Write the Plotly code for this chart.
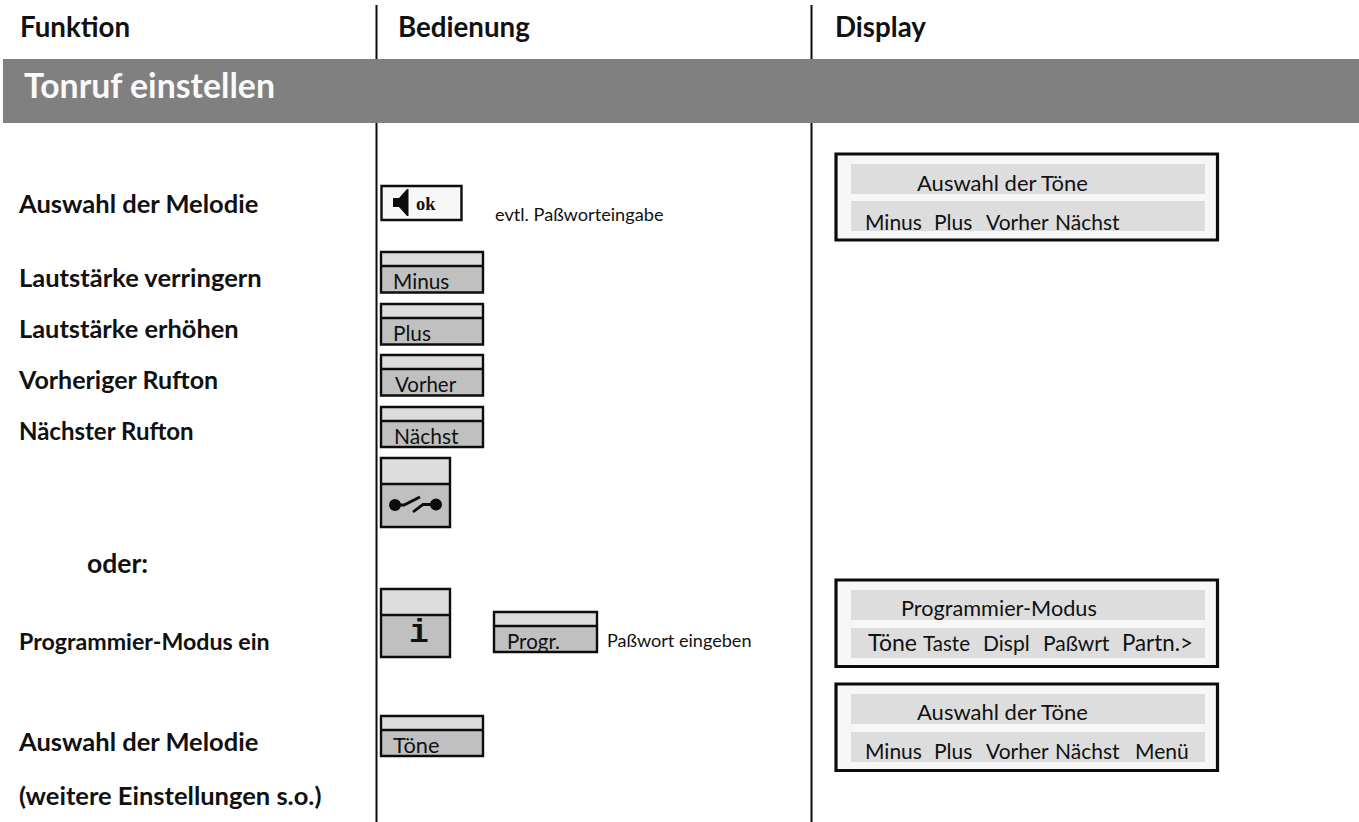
import plotly.graph_objects as go

# ---- text content ----
column_heads = ["Funktion", "Bedienung", "Display"]
section_title = "Tonruf einstellen"
function_labels = ["Auswahl der Melodie", "Lautstärke verringern", "Lautstärke erhöhen",
                   "Vorheriger Rufton", "Nächster Rufton", "oder:",
                   "Programmier-Modus ein", "Auswahl der Melodie", "(weitere Einstellungen s.o.)"]
key_labels = ["Minus", "Plus", "Vorher", "Nächst", "Progr.", "Töne"]
notes = ["evtl. Paßworteingabe", "Paßwort eingeben"]
display_titles = ["Auswahl der Töne", "Programmier-Modus", "Auswahl der Töne"]
softkeys_a = ["Minus", "Plus", "Vorher", "Nächst"]
softkeys_b = ["Töne", "Taste", "Displ", "Paßwrt", "Partn.>"]
softkeys_c = ["Minus", "Plus", "Vorher", "Nächst", "Menü"]

# ---- placement ----
FONT = "Lato"
INK = "#111111"
W, H = 1359, 822

texts = []  # x, baseline, string, size, weight, colour, family


def put(x, base, s, size, weight=400, color=INK, family=FONT):
    texts.append((x, base, s, size, weight, color, family))


for s, x in zip(column_heads, [20, 398, 835]):
    put(x, 38.5, s, 27.7, 700)
put(24, 100, section_title, 33.8, 700, "#fafafa")

for s, x, b, sz in zip(function_labels,
                       [19, 19, 19, 19, 19, 87, 19, 19, 19],
                       [214, 288, 339, 390, 441, 574, 651, 752, 806],
                       [25.5, 25.5, 25.4, 25, 24, 26.5, 23.2, 25.5, 25.5]):
    put(x, b, s, sz, 700)

for s, x, b, sz in zip(key_labels, [393, 393, 395, 394, 507, 393],
                       [290.5, 342, 393.5, 445, 650, 754],
                       [20.8, 20.8, 20.5, 21, 20.5, 21.8]):
    put(x, b, s, sz)
put(495, 222, notes[0], 18.2)
put(607, 648, notes[1], 18.1)

for s, x, b, sz in zip(display_titles, [917, 901, 917], [192, 617.5, 721], [22, 21.7, 22]):
    put(x, b, s, sz)
for s, x in zip(softkeys_a, [865, 934, 986, 1055]):
    put(x, 231, s, 21)
for s, x, sz in zip(softkeys_b, [868, 923, 983, 1043, 1122], [23, 20.5, 21, 21, 22.3]):
    put(x, 652, s, sz)
for s, x in zip(softkeys_c, [865, 934, 986, 1055, 1135]):
    put(x, 760.5, s, 21)

put(416, 211, "ok", 18.5, 700, "#111111", "Liberation Serif")
put(409, 644, "i", 33, 700, "#111111", "Liberation Mono")

shapes = []


def rect(x0, y0, x1, y1, fill=None, lw=0, layer="above"):
    shapes.append(dict(type="rect", xref="x", yref="y", x0=x0, y0=y0, x1=x1, y1=y1,
                       fillcolor=fill if fill else "rgba(0,0,0,0)",
                       line=dict(color="#0c0c0c", width=lw), layer=layer))


def line(x0, y0, x1, y1, lw=2):
    shapes.append(dict(type="line", xref="x", yref="y", x0=x0, y0=y0, x1=x1, y1=y1,
                       line=dict(color="#0c0c0c", width=lw), layer="above"))


def key(x0, y0, x1, y1, ydiv):
    rect(x0, y0, x1, ydiv, "#dddddd", 0, "below")
    rect(x0, ydiv, x1, y1, "#c0c0c0", 0, "below")
    rect(x0 - 1, y1 + 1, x1 + 1, y1 + 8, "#ffffff", 0, "above")
    rect(x0, y0, x1, y1, None, 2.4)
    line(x0, ydiv, x1, ydiv, 2.4)


# header band and column rules
rect(3, 59, W, 123, "#808080", 0, "below")
for x in [376.5, 811.5]:
    line(x, 5, x, 59)
    line(x, 123, x, H)

# keys
for y0, yd, y1 in [(252, 266, 292.5), (304, 318, 344.5), (355, 369, 395.5), (407, 421, 447)]:
    key(381, y0, 483, y1, yd)
key(381, 716, 483, 756, 730)
key(494, 612, 597, 652, 626)
key(381, 458, 450, 527, 484)
key(381, 589, 450, 657, 615)

# ok key with speaker
rect(381.5, 186, 461.5, 220, "#f7f7f7", 0, "below")
rect(381.5, 186, 461.5, 220, None, 2.4)
shapes.append(dict(type="path", xref="x", yref="y",
                   path="M393,198 L399,198 L407,189 L408.5,189 L408.5,216 L407,216 L399,207 L393,207 Z",
                   fillcolor="#0c0c0c", line=dict(width=0), layer="above"))

# hook-switch icon
for cx, cy in [(395, 505), (436, 504.5)]:
    shapes.append(dict(type="circle", xref="x", yref="y", x0=cx - 6, y0=cy - 6, x1=cx + 6, y1=cy + 6,
                       fillcolor="#0c0c0c", line=dict(width=0), layer="above"))
shapes.append(dict(type="path", xref="x", yref="y", path="M395,505 L404,505 L420,497",
                   fillcolor="rgba(0,0,0,0)", line=dict(color="#0c0c0c", width=2.8), layer="above"))
shapes.append(dict(type="path", xref="x", yref="y", path="M413,512 L423,504.5 L436,504.5",
                   fillcolor="rgba(0,0,0,0)", line=dict(color="#0c0c0c", width=2.8), layer="above"))

# displays
for y0, y1, r1, r2 in [(154, 240, (164, 194), (201, 231)),
                       (580, 666.5, (590, 620), (628, 658)),
                       (684, 770.5, (694, 724), (732, 762))]:
    rect(836, y0, 1217.5, y1, "#f7f7f7", 0, "below")
    rect(851, r1[0], 1205, r1[1], "#dddddd", 0, "below")
    rect(851, r2[0], 1205, r2[1], "#dddddd", 0, "below")
    rect(836, y0, 1217.5, y1, None, 3.2)

fig = go.Figure()
for x, b, s, size, weight, color, family in texts:
    fig.add_trace(go.Scatter(x=[x], y=[b - 0.3 * size], mode="text", text=[s],
                             textposition="middle right", cliponaxis=False,
                             hoverinfo="skip", showlegend=False,
                             textfont=dict(family=family, size=size, color=color, weight=weight)))

fig.update_layout(width=W, height=H, margin=dict(l=0, r=0, t=0, b=0),
                  paper_bgcolor="#ffffff", plot_bgcolor="#ffffff", shapes=shapes,
                  showlegend=False,
                  xaxis=dict(range=[0, W], visible=False, fixedrange=True),
                  yaxis=dict(range=[H, 0], visible=False, fixedrange=True))
fig.write_html("out.html", config=dict(displayModeBar=False),
               post_script="document.body.style.margin='0';document.body.style.overflow='hidden';")
